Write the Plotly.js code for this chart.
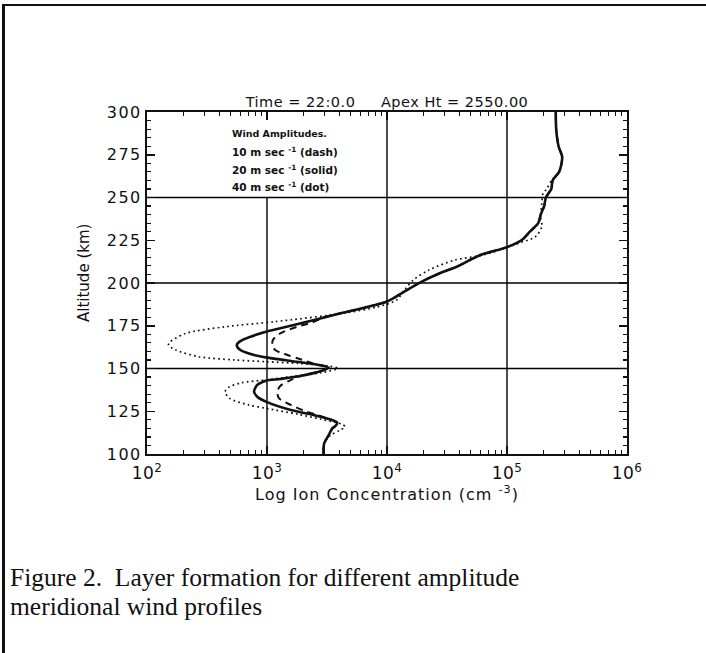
<!DOCTYPE html>
<html>
<head>
<meta charset="utf-8">
<script src="https://cdn.plot.ly/plotly-3.0.1.min.js"></script>
<style>
  html, body { margin: 0; padding: 0; background: #fff; }
  #wrap { position: relative; width: 706px; height: 653px; overflow: hidden; }
  #chart { position: absolute; left: 0; top: 0; width: 706px; height: 653px; }
  #frame { position: absolute; left: 2px; top: 4px; width: 720px; height: 700px;
           border-left: 3px solid #111; border-top: 2px solid #111; pointer-events: none; }
  #chart .gtitle { letter-spacing: 0.5px; }
  #chart .xtitle { letter-spacing: 1px; }
  #chart .ytick text { letter-spacing: 1.5px; }
  #chart .xtick text { letter-spacing: 0.5px; }
</style>
</head>
<body>
<div id="wrap">
  <div id="chart"></div>
  <div id="frame"></div>
</div>
<script>
// ---- Data (altitude in km, ion concentration in cm^-3) ----
// 20 m/s (solid)
const alt20 = [300, 290, 280, 274, 270, 265, 260, 255, 250, 245, 240, 235, 230, 225, 221, 216.4, 209.5, 205.7, 200.8, 194, 189.2, 182.3, 177.4, 173.5, 171.5, 168.6, 165.7, 163.7, 160.8, 157.9, 156.5, 154.4, 152.6, 150.5, 148.5, 145.6, 143.9, 142.9, 140.4, 136.4, 133.5, 130.6, 125.7, 122.8, 120.8, 118.3, 116.4, 115, 111.1, 106.3, 100];
const conc20 = [2.55e5, 2.57e5, 2.69e5, 2.88e5, 2.85e5, 2.72e5, 2.40e5, 2.34e5, 2.11e5, 2.04e5, 1.91e5, 1.82e5, 1.55e5, 1.32e5, 1.0e5, 6.0e4, 3.8e4, 2.75e4, 1.95e4, 1.32e4, 1.0e4, 4100, 2160, 1290, 980, 730, 590, 560, 600, 780, 980, 1580, 2450, 3270, 2820, 1900, 1290, 980, 830, 780, 830, 980, 1580, 2450, 3160, 3850, 3720, 3500, 3270, 3000, 2950];

// 10 m/s (dash)
const alt10 = [300, 290, 280, 274, 270, 265, 260, 255, 250, 245, 240, 235, 230, 225, 221, 216.4, 209.5, 205.7, 200.8, 194, 189.2, 182.3, 180, 177, 174.4, 170.5, 166.7, 163.7, 160.8, 157.9, 155.4, 153, 150.5, 148.5, 145.6, 143.3, 139.8, 136.4, 132.5, 128.7, 124.7, 122.8, 120.8, 118.3, 116.4, 115, 111.1, 106.3, 100];
const conc10 = [2.55e5, 2.57e5, 2.69e5, 2.88e5, 2.85e5, 2.72e5, 2.40e5, 2.34e5, 2.11e5, 2.04e5, 1.91e5, 1.82e5, 1.55e5, 1.32e5, 1.0e5, 6.0e4, 3.8e4, 2.75e4, 1.95e4, 1.32e4, 1.0e4, 4100, 3000, 2400, 1780, 1290, 1120, 1110, 1170, 1480, 1900, 2400, 3270, 2820, 1900, 1580, 1290, 1220, 1260, 1580, 2160, 2630, 3160, 3850, 3720, 3500, 3270, 3000, 2950];

// 40 m/s (dot)
const alt40 = [300, 290, 280, 274, 270, 265, 260, 255, 252.4, 246.6, 238.8, 232.9, 227, 223.2, 219.5, 215.8, 213.5, 207.6, 201.8, 196, 190, 186, 182.3, 177.4, 174.4, 170.5, 165.7, 163.7, 160.8, 156.9, 155, 154, 153, 151.5, 150.1, 147.5, 145.2, 143.3, 141.7, 139, 136.4, 132.5, 128.7, 126.7, 123.2, 120.3, 117.5, 116, 113.6, 111, 106.3, 100];
const conc40 = [2.55e5, 2.57e5, 2.69e5, 2.88e5, 2.85e5, 2.72e5, 2.35e5, 2.14e5, 2.0e5, 1.95e5, 1.91e5, 1.95e5, 1.72e5, 1.24e5, 8.9e4, 5.8e4, 3.7e4, 2.24e4, 1.66e4, 1.4e4, 1.2e4, 8300, 4300, 1160, 447, 209, 157, 151, 174, 269, 537, 980, 1820, 3240, 3890, 2820, 1580, 980, 617, 479, 447, 490, 700, 980, 1820, 2820, 4170, 4470, 3980, 3390, 3000, 2950];

// Ticks and grid
const xTickVals = [1e2, 1e3, 1e4, 1e5, 1e6];
const xTickText = ['10<sup>2</sup>', '10<sup>3</sup>', '10<sup>4</sup>', '10<sup>5</sup>', '10<sup>6</sup>'];
const yTickVals = [100, 125, 150, 175, 200, 225, 250, 275, 300];
const xGridVals = [1e3, 1e4, 1e5];
const yGridVals = [150, 200, 250];

const titleText = 'Time = 22:0.0&nbsp;&nbsp;&nbsp;&nbsp;&nbsp;Apex Ht = 2550.00';
const xTitle = 'Log Ion Concentration (cm <sup>-3</sup>)';
const yTitle = 'Altitude (km)';
const legendLines = [
  'Wind Amplitudes.',
  '10 m sec <sup>-1</sup> (dash)',
  '20 m sec <sup>-1</sup> (solid)',
  '40 m sec <sup>-1</sup> (dot)'
];
const captionLines = [
  'Figure 2.&nbsp;&nbsp;Layer formation for different amplitude',
  'meridional wind profiles'
];

const FONT = 'DejaVu Sans, sans-serif';
const INK = '#111';

const traces = [
  { x: conc10, y: alt10, type: 'scatter', mode: 'lines', name: '10 m/s',
    line: { color: INK, width: 2, dash: '7px,5px', shape: 'spline', smoothing: 0.8 } },
  { x: conc40, y: alt40, type: 'scatter', mode: 'lines', name: '40 m/s',
    line: { color: INK, width: 1.7, dash: '1.7px,3.2px', shape: 'spline', smoothing: 0.8 } },
  { x: conc20, y: alt20, type: 'scatter', mode: 'lines', name: '20 m/s',
    line: { color: INK, width: 2.6, shape: 'spline', smoothing: 0.8 } }
];

const W = 706, H = 653;
const L = 147, R = 627, T = 112, B = 454;
const px2x = p => (p - L) / (R - L);
const py2y = p => (B - p) / (B - T);

// gridlines (the 10^3 line stops below the legend box at 250 km)
const shapes = [];
xGridVals.forEach(v => shapes.push({
  type: 'line', layer: 'below', xref: 'x', yref: v === 1e3 ? 'y' : 'paper', x0: v, x1: v,
  y0: v === 1e3 ? 100 : 0, y1: v === 1e3 ? 250 : 1, line: { color: '#000', width: 1.4 }
}));
yGridVals.forEach(v => shapes.push({
  type: 'line', layer: 'below', xref: 'paper', yref: 'y', x0: 0, x1: 1,
  y0: v, y1: v, line: { color: '#000', width: 1.4 }
}));

const annotations = [];
const legY = [133, 151, 169, 186];
legendLines.forEach((t, i) => annotations.push({
  xref: 'paper', yref: 'paper', x: px2x(230), y: py2y(legY[i]),
  xanchor: 'left', yanchor: 'middle', showarrow: false, text: t,
  font: { family: FONT, size: i === 0 ? 9.5 : 10.5, color: INK, weight: 'bold' }
}));
const capY = [577, 606];
captionLines.forEach((t, i) => annotations.push({
  xref: 'paper', yref: 'paper', x: px2x(8), y: py2y(capY[i]),
  xanchor: 'left', yanchor: 'middle', showarrow: false, text: t,
  font: { family: 'Liberation Serif, Times New Roman, serif', size: 25.5, color: INK }
}));
annotations.push({
  xref: 'paper', yref: 'paper', x: px2x(84), y: py2y(273),
  xanchor: 'center', yanchor: 'middle', textangle: -90, showarrow: false, text: yTitle,
  font: { family: FONT, size: 15, color: INK }
});

const layout = {
  width: W, height: H,
  margin: { l: L, r: W - R, t: T, b: H - B, pad: 0 },
  paper_bgcolor: 'rgba(0,0,0,0)', plot_bgcolor: 'rgba(0,0,0,0)',
  showlegend: false,
  font: { family: FONT, color: INK, size: 15 },
  title: { text: titleText, font: { family: FONT, size: 14.5, color: INK },
           xref: 'paper', x: 0.5, xanchor: 'center', yref: 'container', y: 1 - 102 / H, yanchor: 'middle' },
  xaxis: {
    type: 'log', range: [2, 6], tickvals: xTickVals, ticktext: xTickText,
    showgrid: false,
    showline: true, linecolor: INK, linewidth: 2, mirror: 'allticks',
    ticks: 'inside', ticklen: 8, tickwidth: 1.5, tickcolor: INK, ticklabelstandoff: 3,
    minor: { dtick: 'D1', ticks: 'inside', ticklen: 4, tickwidth: 1.2, tickcolor: INK, showgrid: false },
    tickfont: { family: FONT, size: 17, color: INK },
    zeroline: false,
    title: { text: xTitle, font: { family: FONT, size: 16, color: INK }, standoff: 0 }
  },
  yaxis: {
    range: [100, 300], tickvals: yTickVals,
    showgrid: false,
    showline: true, linecolor: INK, linewidth: 2, mirror: 'allticks',
    ticks: 'inside', ticklen: 8, tickwidth: 1.5, tickcolor: INK,
    minor: { dtick: 5, tick0: 100, ticks: 'inside', ticklen: 4, tickwidth: 1.2, tickcolor: INK, showgrid: false },
    tickfont: { family: FONT, size: 16, color: INK },
    zeroline: false
  },
  shapes: shapes,
  annotations: annotations
};

Plotly.newPlot('chart', traces, layout, { displayModeBar: false, staticPlot: true });
</script>
</body>
</html>
